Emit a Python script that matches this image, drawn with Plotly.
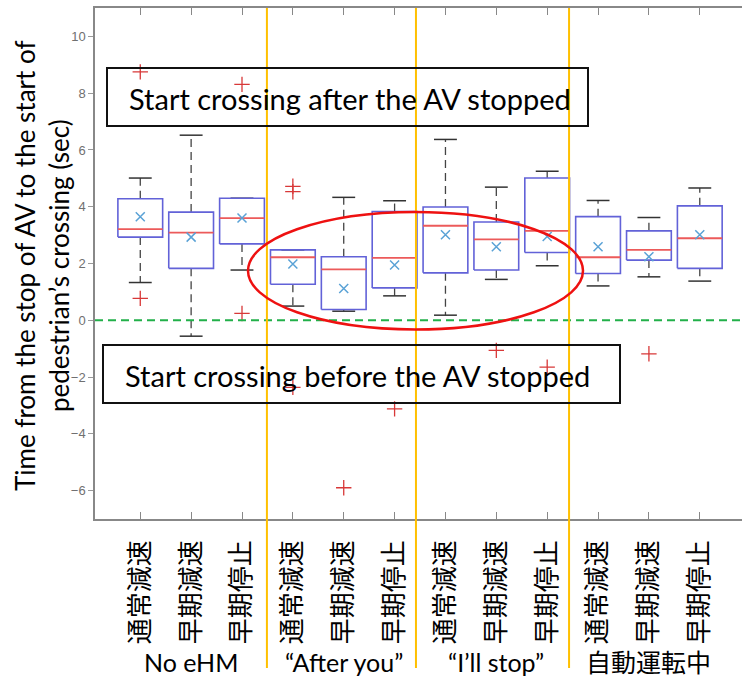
import plotly.graph_objects as go

# ---------------- data ----------------
categories = ["通常減速", "早期減速", "早期停止",
              "通常減速", "早期減速", "早期停止",
              "通常減速", "早期減速", "早期停止",
              "通常減速", "早期減速", "早期停止"]
groups = ["No eHM", "“After you”", "“I’ll stop”", "自動運転中"]

lower_whisker = [1.33, -0.56, 1.77, 0.50, 0.32, 0.86, 0.18, 1.44, 1.92, 1.21, 1.53, 1.38]
q1            = [2.93, 1.83, 2.69, 1.27, 0.38, 1.14, 1.67, 1.77, 2.39, 1.65, 2.12, 1.83]
median        = [3.21, 3.09, 3.60, 2.22, 1.79, 2.20, 3.33, 2.85, 3.15, 2.22, 2.48, 2.89]
q3            = [4.28, 3.81, 4.30, 2.48, 2.24, 3.83, 3.99, 3.46, 5.01, 3.65, 3.15, 4.03]
upper_whisker = [5.01, 6.52, 4.30, 2.48, 4.33, 4.21, 6.37, 4.69, 5.25, 4.22, 3.62, 4.66]
mean          = [3.65, 2.93, 3.60, 1.98, 1.12, 1.95, 3.01, 2.59, 2.95, 2.59, 2.24, 3.01]
outliers      = [[0.77, 8.75], [], [0.24, 8.31], [4.53, 4.72, -2.36], [-5.90], [-3.12],
                 [], [-1.06], [-1.65], [], [-1.18], []]

y_ticks = [-6, -4, -2, 0, 2, 4, 6, 8, 10]
group_separators = [3.49, 6.42, 9.43]

# ---------------- geometry helpers ----------------
W, H = 742, 684
L, R, T, B = 95, 742, 8, 519
def px(x):
    return (x - L) / (R - L)
def py(y):
    return (B - y) / (B - T)

BOX_HALF = 0.44
CAP_HALF = 0.225
pos = list(range(1, len(categories) + 1))

def segs(xpairs, ypairs):
    xs, ys = [], []
    for (xa, xb), (ya, yb) in zip(xpairs, ypairs):
        xs += [xa, xb, None]
        ys += [ya, yb, None]
    return xs, ys

fig = go.Figure()

# whiskers (dashed)
wx, wy = segs([(p, p) for p in pos] + [(p, p) for p in pos],
              [(q3[i], upper_whisker[i]) for i in range(12)] +
              [(q1[i], lower_whisker[i]) for i in range(12)])
fig.add_trace(go.Scatter(x=wx, y=wy, mode="lines",
                         line=dict(color="#444444", width=1.3, dash="8px,5px"),
                         hoverinfo="skip", showlegend=False))
# caps
cx, cy = segs([(p - CAP_HALF, p + CAP_HALF) for p in pos] * 2,
              [(v, v) for v in upper_whisker] + [(v, v) for v in lower_whisker])
fig.add_trace(go.Scatter(x=cx, y=cy, mode="lines",
                         line=dict(color="#333333", width=1.5),
                         hoverinfo="skip", showlegend=False))
# boxes
bx, by = [], []
for i, p in enumerate(pos):
    bx += [p - BOX_HALF, p + BOX_HALF, p + BOX_HALF, p - BOX_HALF, p - BOX_HALF, None]
    by += [q1[i], q1[i], q3[i], q3[i], q1[i], None]
fig.add_trace(go.Scatter(x=bx, y=by, mode="lines",
                         line=dict(color="#6262d8", width=1.6),
                         hoverinfo="skip", showlegend=False))
# medians
mx, my = segs([(p - BOX_HALF, p + BOX_HALF) for p in pos], [(v, v) for v in median])
fig.add_trace(go.Scatter(x=mx, y=my, mode="lines",
                         line=dict(color="#ec5a5a", width=1.8),
                         hoverinfo="skip", showlegend=False))
# means
fig.add_trace(go.Scatter(x=pos, y=mean, mode="markers",
                         marker=dict(symbol="x-thin", size=9,
                                     line=dict(color="#5aa2d6", width=1.5)),
                         hoverinfo="skip", showlegend=False))
# outliers
ox, oy = [], []
for i, p in enumerate(pos):
    for v in outliers[i]:
        ox.append(p)
        oy.append(v)
fig.add_trace(go.Scatter(x=ox, y=oy, mode="markers",
                         marker=dict(symbol="cross-thin", size=11,
                                     line=dict(color="#d83838", width=1.3)),
                         hoverinfo="skip", showlegend=False))

shapes = []
# zero line
shapes.append(dict(type="line", xref="paper", yref="y", x0=0, x1=1, y0=0, y1=0,
                   line=dict(color="#22b04a", width=2, dash="8px,5px")))
# group separators
for s in group_separators:
    shapes.append(dict(type="line", xref="x", yref="paper", x0=s, x1=s,
                       y0=py(668), y1=1, line=dict(color="#ffc000", width=2)))
# text boxes
shapes.append(dict(type="rect", xref="paper", yref="paper",
                   x0=px(107), x1=px(588), y0=py(126), y1=py(68),
                   line=dict(color="#111111", width=2)))
shapes.append(dict(type="rect", xref="paper", yref="paper",
                   x0=px(103), x1=px(620), y0=py(403), y1=py(345),
                   line=dict(color="#111111", width=2)))
# red ellipse
shapes.append(dict(type="circle", xref="paper", yref="paper",
                   x0=px(248), x1=px(583), y0=py(329.5), y1=py(212),
                   line=dict(color="#ee1111", width=2.5)))

TXT_FONT = "Lato, 'Open Sans', sans-serif"
annotations = [
    dict(text="Start crossing after the AV stopped", xref="paper", yref="paper",
         x=px(350), y=py(98), xanchor="center", yanchor="middle", showarrow=False,
         font=dict(family=TXT_FONT, size=29, color="#000000")),
    dict(text="Start crossing before the AV stopped", xref="paper", yref="paper",
         x=px(357), y=py(375), xanchor="center", yanchor="middle", showarrow=False,
         font=dict(family=TXT_FONT, size=29, color="#000000")),
    dict(text="Time from the stop of AV to the start of<br>pedestrian’s crossing (sec)",
         xref="paper", yref="paper", x=px(42), y=py(266), xanchor="center",
         yanchor="middle", textangle=-90, showarrow=False,
         font=dict(family=TXT_FONT, size=26, color="#000000")),
]
for gi, g in enumerate(groups):
    annotations.append(dict(text=g, xref="x", yref="paper", x=pos[gi * 3 + 1], y=py(662),
                            xanchor="center", yanchor="middle", showarrow=False,
                            font=dict(family=TXT_FONT + ", 'Noto Sans CJK JP'", size=25,
                                      color="#000000")))

fig.update_layout(
    width=W, height=H,
    margin=dict(l=L, r=W - R, t=T, b=H - B),
    paper_bgcolor="white", plot_bgcolor="white",
    shapes=shapes, annotations=annotations,
    xaxis=dict(range=[0.11, 12.83], tickvals=pos, ticktext=categories,
               tickangle=-90, ticks="inside", ticklen=7, tickcolor="#888888",
               showline=True, linecolor="#888888", linewidth=1.5, mirror="ticks",
               showgrid=False, zeroline=False, ticklabelstandoff=9,
               tickfont=dict(family="'Noto Sans CJK JP'", size=26, color="#000000")),
    yaxis=dict(range=[-7, 11], tickvals=y_ticks, ticks="outside", ticklen=5,
               tickcolor="#999999", showline=True, linecolor="#888888", linewidth=1.5,
               showgrid=False, zeroline=False,
               tickfont=dict(family="'Liberation Sans Narrow', 'Liberation Sans', sans-serif",
                             size=13, color="#707070")),
)

fig.write_html("out.html")
